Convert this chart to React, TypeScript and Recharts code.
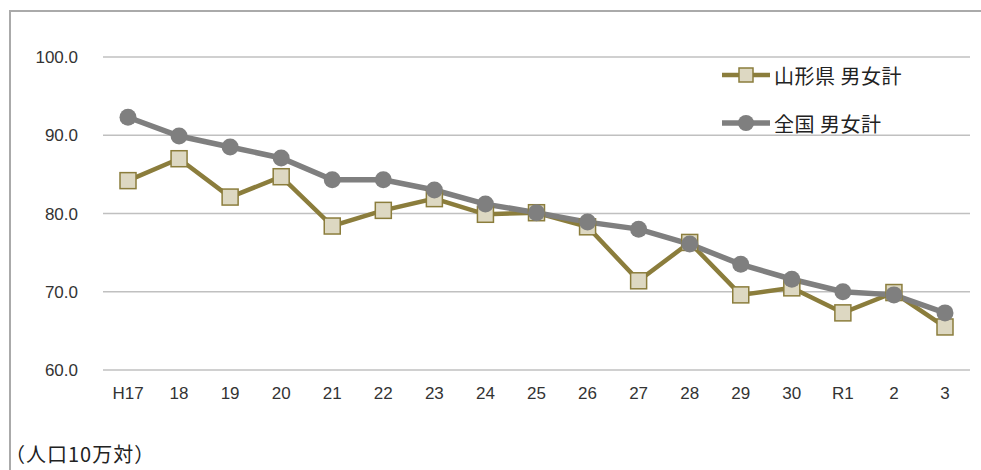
import React from "react";
import { LineChart, Line, XAxis, YAxis, CartesianGrid } from "recharts";

const years = ["H17", "18", "19", "20", "21", "22", "23", "24", "25", "26", "27", "28", "29", "30", "R1", "2", "3"];
const yamagata = [84.2, 87.0, 82.1, 84.7, 78.4, 80.4, 81.9, 79.9, 80.1, 78.3, 71.4, 76.3, 69.6, 70.5, 67.3, 69.9, 65.5];
const national = [92.3, 89.9, 88.5, 87.1, 84.3, 84.3, 83.0, 81.2, 80.1, 78.9, 78.0, 76.1, 73.5, 71.6, 70.0, 69.6, 67.3];
const yTicks = [60, 70, 80, 90, 100];

const data = years.map((name, i) => ({ name, yamagata: yamagata[i], national: national[i] }));

const OLIVE = "#8b7d3c";
const SQUARE_FILL = "#ddd8c2";
const GREY = "#7f7f7f";
const TEXT = "#333333";
const FONT = "'Liberation Sans', 'Noto Sans CJK JP', sans-serif";
const CJK = "'Noto Sans CJK JP', sans-serif";

const SquareDot = (props: any) => {
  const { cx, cy, index } = props;
  if (cx == null || cy == null) return <g key={index} />;
  return (
    <rect key={index} x={cx - 8} y={cy - 8} width={16} height={16} fill={SQUARE_FILL} stroke={OLIVE} strokeWidth={1.5} />
  );
};

const LegendBox = () => (
  <div style={{ fontFamily: CJK, fontSize: 20, color: "#222", letterSpacing: 0.5 }}>
    <div style={{ display: "flex", alignItems: "center", height: 24 }}>
      <svg width={50} height={20}>
        <line x1={0} y1={10} x2={48} y2={10} stroke={OLIVE} strokeWidth={4.5} />
        <rect x={17} y={3} width={14} height={14} fill={SQUARE_FILL} stroke={OLIVE} strokeWidth={1.5} />
      </svg>
      <span style={{ marginLeft: 2 }}>山形県 男女計</span>
    </div>
    <div style={{ display: "flex", alignItems: "center", height: 24, marginTop: 24 }}>
      <svg width={50} height={20}>
        <line x1={0} y1={10} x2={48} y2={10} stroke={GREY} strokeWidth={5.5} />
        <circle cx={24} cy={10} r={8} fill={GREY} />
      </svg>
      <span style={{ marginLeft: 2 }}>全国 男女計</span>
    </div>
  </div>
);

export default function App() {
  return (
    <div style={{ position: "absolute", left: 0, top: 0, width: 981, height: 470, background: "#fff", overflow: "hidden" }}>
      <div
        style={{
          position: "absolute",
          left: 9,
          top: 10,
          width: 1100,
          height: 600,
          borderLeft: "2px solid #aaaaaa",
          borderTop: "2px solid #aaaaaa",
        }}
      />
      <div style={{ position: "absolute", left: 0, top: 0 }}>
        <LineChart width={981} height={470} data={data} margin={{ top: 57, right: 11, bottom: 70, left: 0 }}>
          <CartesianGrid vertical={false} stroke="#c0c0c0" strokeWidth={1.5} />
          <XAxis
            dataKey="name"
            axisLine={false}
            tickLine={false}
            tickSize={0}
            tickMargin={17}
            height={30}
            interval={0}
            padding={{ left: 25, right: 25 }}
            tick={{ fill: TEXT, fontSize: 17, fontFamily: FONT }}
          />
          <YAxis
            domain={[60, 100]}
            ticks={yTicks}
            width={103}
            axisLine={false}
            tickLine={false}
            tickSize={0}
            tickMargin={25}
            tickFormatter={(v: number) => v.toFixed(1)}
            tick={{ fill: TEXT, fontSize: 17, fontFamily: FONT }}
          />
          <Line
            type="linear"
            dataKey="yamagata"
            stroke={OLIVE}
            strokeWidth={4.5}
            dot={SquareDot}
            isAnimationActive={false}
          />
          <Line
            type="linear"
            dataKey="national"
            stroke={GREY}
            strokeWidth={5.5}
            dot={{ r: 8.5, fill: GREY, stroke: GREY, strokeWidth: 0 }}
            isAnimationActive={false}
          />
        </LineChart>
      </div>
      <div style={{ position: "absolute", left: 722, top: 63 }}>
        <LegendBox />
      </div>
      <div
        style={{
          position: "absolute",
          left: 5,
          top: 441,
          fontFamily: CJK,
          fontSize: 20,
          color: "#222",
          letterSpacing: 1,
          lineHeight: "26px",
        }}
      >
        （人口10万対）
      </div>
    </div>
  );
}
